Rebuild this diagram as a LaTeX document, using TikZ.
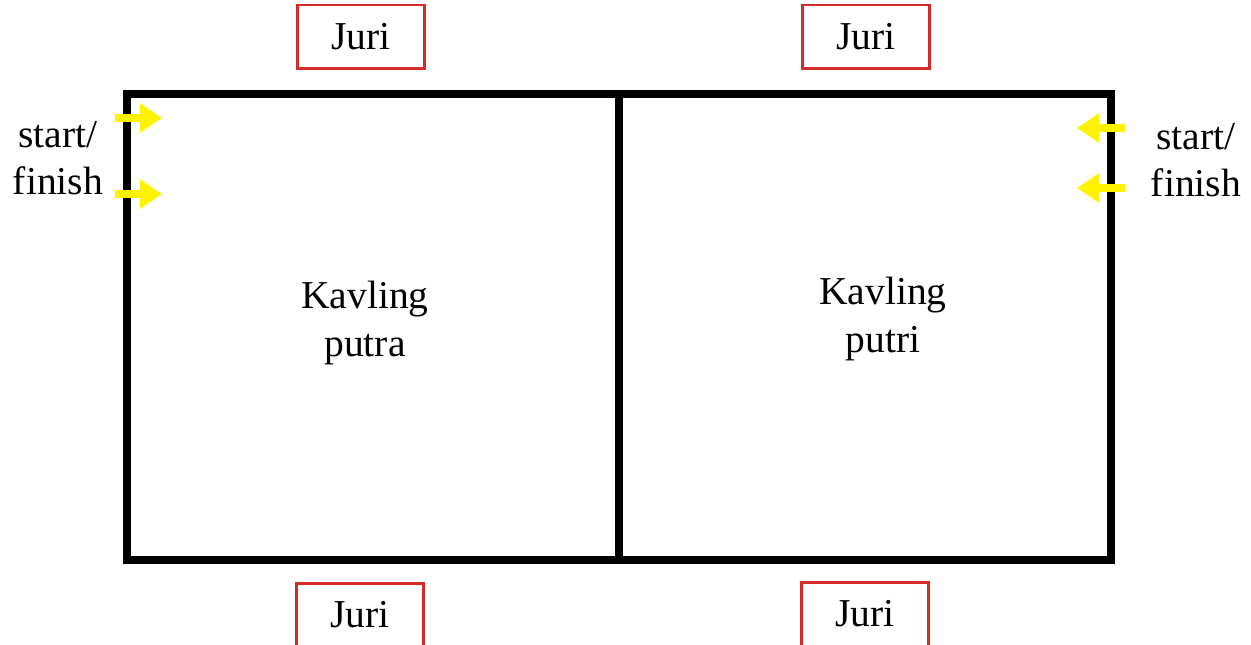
\documentclass[tikz,border=0pt]{standalone}
\usepackage{fontspec}
\setmainfont{Liberation Serif}
\usetikzlibrary{arrows.meta}
\definecolor{jurired}{RGB}{214,42,42}
\definecolor{flagyellow}{RGB}{255,242,0}
\tikzset{>=Triangle,
    juri/.style={draw=jurired,line width=1.7pt,minimum width=2.54cm,minimum height=1.28cm},
    flag/.style={draw=flagyellow,line width=4.8pt,-{Triangle[length=0.44cm,width=0.56cm]}},
    label text/.style={align=center,font=\fontsize{22.5}{27}\selectfont}}

\begin{document}
\begin{tikzpicture}[x=0.02cm,y=-0.02cm,font=\fontsize{22.5}{27}\selectfont]
    \useasboundingbox (0,0) rectangle (1251,645);
    \draw[line width=4.5pt] (127,94) rectangle (1111,560);
    \draw[line width=4.5pt] (619,94) -- (619,560);
    \node[juri] (juriTL) at (361,37) {Juri};
    \node[juri] (juriTR) at (866,37) {Juri};
    \node[juri] (juriBL) at (360,615) {Juri};
    \node[juri] (juriBR) at (865,614) {Juri};
    \node[label text] (putra) at (365,323) {Kavling\\putra};
    \node[label text] (putri) at (883,319) {Kavling\\putri};
    \node[label text] (startL) at (58,158) {start/\\finish};
    \node[label text] (startR) at (1196,160) {start/\\finish};
    \draw[flag] (115,118) -- (162,118);
    \draw[flag] (115,194) -- (162,194);
    \draw[flag] (1125,128) -- (1077,128);
    \draw[flag] (1125,188) -- (1077,188);
\end{tikzpicture}
\end{document}
